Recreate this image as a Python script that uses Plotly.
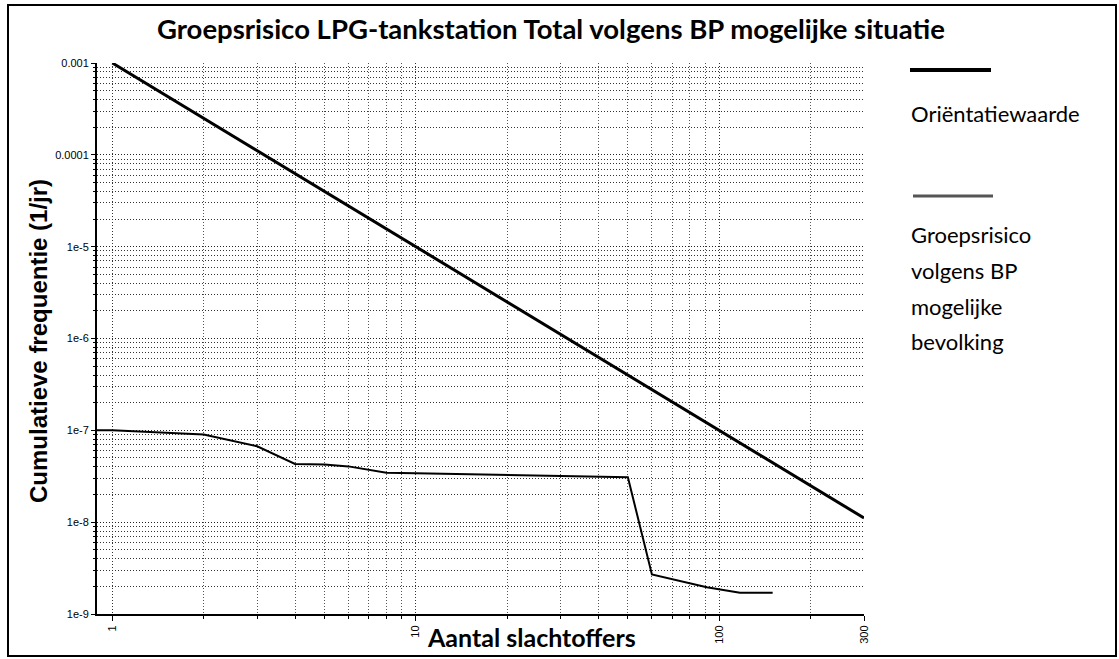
import plotly.graph_objects as go
import math

# ---- data ----
orient_n = [1, 10, 100, 300]
orient_f = [1e-3, 1e-5, 1e-7, 1.11e-8]

gr_n = [0.89, 1, 2, 3, 4, 5, 6, 8, 10, 35, 50, 60, 91, 117, 150]
gr_f = [1.0e-7, 1.0e-7, 9.0e-8, 6.7e-8, 4.3e-8, 4.25e-8, 4.05e-8, 3.45e-8, 3.4e-8,
        3.15e-8, 3.08e-8, 2.7e-9, 1.96e-9, 1.7e-9, 1.7e-9]

x_ticks = [1, 10, 100, 300]
x_tick_text = ["1", "10", "100", "300"]
y_ticks = [1e-9, 1e-8, 1e-7, 1e-6, 1e-5, 1e-4, 1e-3]
y_tick_text = ["1e-9", "1e-8", "1e-7", "1e-6", "1e-5", "0.0001", "0.001"]

title = "Groepsrisico LPG-tankstation Total volgens BP mogelijke situatie"
x_title = "Aantal slachtoffers"
y_title = "Cumulatieve frequentie (1/jr)"
legend1 = "Oriëntatiewaarde"
legend2_lines = ["Groepsrisico", "volgens BP", "mogelijke", "bevolking"]

x_minor = [m * 10 ** e for e in range(0, 3) for m in range(2, 10) if m * 10 ** e < 300]
y_minor = [m * 10.0 ** e for e in range(-9, -3) for m in range(2, 10)]

fig = go.Figure()
fig.add_trace(go.Scatter(x=orient_n, y=orient_f, mode="lines",
                         line=dict(color="black", width=3), showlegend=False))
fig.add_trace(go.Scatter(x=gr_n, y=gr_f, mode="lines",
                         line=dict(color="black", width=2), showlegend=False))

dot = "1px,2px"
fig.update_xaxes(type="log", range=[math.log10(0.89), math.log10(300)],
                 tickvals=x_ticks, ticktext=x_tick_text, tickangle=-90,
                 tickfont=dict(family="Liberation Sans", size=11, color="black"),
                 showline=True, linecolor="black", linewidth=2,
                 ticks="outside", ticklen=5, tickcolor="black",
                 showgrid=True, gridcolor="#333333", griddash=dot, gridwidth=1,
                 minor=dict(tickvals=x_minor, showgrid=True, gridcolor="#555555",
                            griddash=dot, gridwidth=1, ticks="outside", ticklen=3,
                            tickcolor="black"),
                 zeroline=False)
fig.update_yaxes(type="log", range=[-9, -3],
                 tickvals=y_ticks, ticktext=y_tick_text,
                 tickfont=dict(family="Liberation Sans", size=11, color="black"),
                 showline=True, linecolor="black", linewidth=2,
                 ticks="outside", ticklen=4, tickcolor="black",
                 showgrid=True, gridcolor="#222222", griddash=dot, gridwidth=1,
                 minor=dict(tickvals=y_minor, showgrid=True, gridcolor="#333333",
                            griddash=dot, gridwidth=1, ticks="outside", ticklen=2,
                            tickcolor="black"),
                 zeroline=False)

L, R, T, B = 97, 255, 63, 45
W, H = 1119, 659
pw, ph = W - L - R, H - T - B

def px(x):
    return (x - L) / pw

def py(y):
    return (H - B - y) / ph

shapes = [
    dict(type="rect", xref="paper", yref="paper", x0=px(8), x1=px(1116), y0=py(656), y1=py(5),
         line=dict(color="black", width=2), fillcolor="rgba(0,0,0,0)", layer="below"),
    dict(type="line", xref="paper", yref="paper", x0=px(910), x1=px(991), y0=py(70), y1=py(70),
         line=dict(color="black", width=4)),
    dict(type="line", xref="paper", yref="paper", x0=px(913), x1=px(993), y0=py(196), y1=py(196),
         line=dict(color="#555555", width=3)),
]

annotations = [
    dict(text="<b>" + title + "</b>", xref="paper", yref="paper", x=px(551), y=py(29),
         showarrow=False, xanchor="center", yanchor="middle",
         font=dict(family="Lato", size=27.5, color="black")),
    dict(text="<b>" + x_title + "</b>", xref="paper", yref="paper", x=px(531), y=py(637),
         showarrow=False, xanchor="center", yanchor="middle",
         font=dict(family="Lato", size=25, color="black")),
    dict(text="<b>" + y_title + "</b>", xref="paper", yref="paper", x=px(38), y=py(341),
         showarrow=False, xanchor="center", yanchor="middle", textangle=-90,
         font=dict(family="Liberation Sans", size=24, color="black")),
    dict(text=legend1, xref="paper", yref="paper", x=px(909), y=py(113),
         showarrow=False, xanchor="left", yanchor="middle",
         font=dict(family="Lato", size=22, color="black")),
]
for i, t in enumerate(legend2_lines):
    annotations.append(dict(text=t, xref="paper", yref="paper", x=px(909), y=py(235 + 35.5 * i),
                            showarrow=False, xanchor="left", yanchor="middle",
                            font=dict(family="Lato", size=22, color="black")))

fig.update_layout(width=W, height=H, margin=dict(l=L, r=R, t=T, b=B),
                  paper_bgcolor="white", plot_bgcolor="white",
                  shapes=shapes, annotations=annotations, showlegend=False)

fig.write_html("out.html", config={"displayModeBar": False},
               post_script="document.body.style.margin='0';document.body.style.overflow='hidden';")
